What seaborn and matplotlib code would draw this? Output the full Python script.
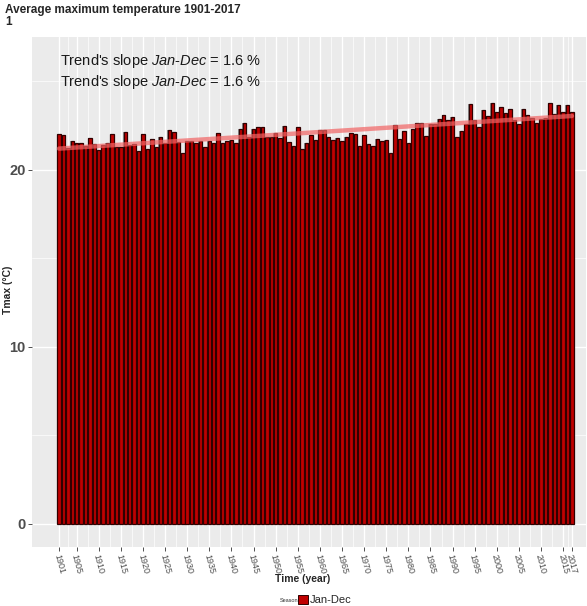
import numpy as np
import pandas as pd
import matplotlib
matplotlib.use("Agg")
import matplotlib.pyplot as plt
from matplotlib.patches import Patch
from matplotlib.ticker import FixedLocator
import seaborn as sns

# annual mean Tmax (°C)
years = list(range(1901, 2018))
tmax = [
    22.02, 21.98, 21.22, 21.64, 21.54, 21.54, 21.37, 21.79, 21.47, 21.09,
    21.41, 21.51, 22.03, 21.26, 21.28, 22.13, 21.41, 21.43, 21.07, 22.00,
    21.19, 21.73, 21.26, 21.83, 21.49, 22.26, 22.11, 21.56, 20.92,
    21.64, 21.64, 21.51, 21.60, 21.26, 21.64, 21.54, 22.07, 21.54, 21.62,
    21.68, 21.52, 22.30, 22.64, 21.83, 22.33, 22.39, 22.43, 21.86, 21.83,
    22.07, 21.79, 22.49, 21.56, 21.36, 22.43, 21.19, 21.54, 21.96, 21.68,
    22.26, 22.24, 21.85, 21.69, 21.79, 21.64, 21.85, 22.07, 22.02, 21.32,
    21.94, 21.47, 21.37, 21.73, 21.64, 21.68, 20.94, 22.54, 21.73, 22.17,
    21.51, 22.33, 22.64, 22.64, 21.90, 22.60, 22.58, 22.88, 23.11, 22.82,
    22.99, 21.85, 22.17, 22.60, 23.71, 22.82, 22.39, 23.35, 23.03, 23.75,
    23.24, 23.56, 23.22, 23.45, 22.81, 22.60, 23.46, 23.12, 22.92, 22.66,
    22.86, 22.95, 23.75, 23.16, 23.63, 23.28, 23.67, 23.28,
]

x_ticks = [1901] + list(range(1905, 2016, 5)) + [2017]
y_ticks = [0, 10, 20]
season = "Jan-Dec"
slope_txt = "1.6 %"

df = pd.DataFrame({"year": years, "tmax": tmax})

sns.set_theme(style="darkgrid")
plt.rcParams["font.family"] = ["Liberation Sans", "DejaVu Sans"]
plt.rcParams["mathtext.fontset"] = "custom"
plt.rcParams["mathtext.rm"] = "Liberation Sans"
plt.rcParams["mathtext.it"] = "Liberation Sans:italic"

fig = plt.figure(figsize=(5.87, 6.06), dpi=100)
ax = fig.add_axes([0.0545, 0.0974, 0.944, 0.8416])
ax.set_facecolor("#ebebeb")

# grey shadow behind each bar, then the red bars
sns.barplot(data=df, x="year", y="tmax", native_scale=True, width=1.0,
            color="#8c8c8c", saturation=1, linewidth=0, ax=ax, zorder=2)
sns.barplot(data=df, x="year", y="tmax", native_scale=True, width=0.78,
            color="#c00000", saturation=1, edgecolor="#300000",
            linewidth=0.9, ax=ax, zorder=3)

# linear trend
sns.regplot(data=df, x="year", y="tmax", scatter=False, ci=None, truncate=True,
            color="#f26464", line_kws={"lw": 3.2, "alpha": 0.7, "zorder": 4}, ax=ax)

ax.set_xlim(1894.9, 2020.2)
ax.set_ylim(-1.3, 27.5)
ax.set_xticks(x_ticks)
ax.set_xticklabels([str(y) for y in x_ticks], rotation=-75, fontsize=6.5,
                   color="#4d4d4d", ha="center", va="top")
minor_x = [(a + b) / 2 for a, b in zip(x_ticks[:-1], x_ticks[1:])]
ax.xaxis.set_minor_locator(FixedLocator(minor_x))
ax.set_yticks(y_ticks)
ax.set_yticklabels([str(v) for v in y_ticks], fontsize=10.5, fontweight="bold",
                   color="#4d4d4d")
ax.yaxis.set_minor_locator(FixedLocator([5, 15, 25]))

ax.grid(which="major", color="white", linewidth=1.0, zorder=0)
ax.grid(which="minor", color="white", linewidth=0.5, zorder=0)
ax.set_axisbelow(True)
ax.tick_params(axis="both", which="major", length=3, color="#333333", width=0.6,
               pad=1.5, bottom=True, left=True)
ax.tick_params(axis="both", which="minor", length=0)
for s in ax.spines.values():
    s.set_visible(False)

ax.set_xlabel("")
ax.set_ylabel("")
fig.text(8 / 587, 1 - 290 / 606, "Tmax (°C)", fontsize=7.5, fontweight="bold",
         rotation=90, ha="center", va="center")

for yy in (0.953, 0.912):
    ax.text(0.05, yy, "Trend's slope $\\it{Jan}$-$\\it{Dec}$ = " + slope_txt,
            transform=ax.transAxes, fontsize=10.5, color="#1a1a1a",
            va="center", ha="left", zorder=5)

fig.text(5 / 587, 1 - 4 / 606, "Average maximum temperature 1901-2017\n1",
         fontsize=8.5, fontweight="bold", ha="left", va="top", linespacing=1.0)
fig.text(303 / 587, 1 - 579 / 606, "Time (year)", fontsize=7.5,
         fontweight="bold", ha="center", va="center")

fig.text(298 / 587, 1 - 600 / 606, "Season", fontsize=4, ha="right",
         va="center", color="#333333")
fig.legend(handles=[Patch(facecolor="#c00000", edgecolor="#300000", lw=0.7)],
           labels=[season], loc="center left",
           bbox_to_anchor=(298 / 587, 1 - 600 / 606), frameon=False,
           fontsize=8, handlelength=0.9, handleheight=0.9, handletextpad=0.2,
           borderpad=0, borderaxespad=0)

fig.savefig("out.png", dpi=100)
